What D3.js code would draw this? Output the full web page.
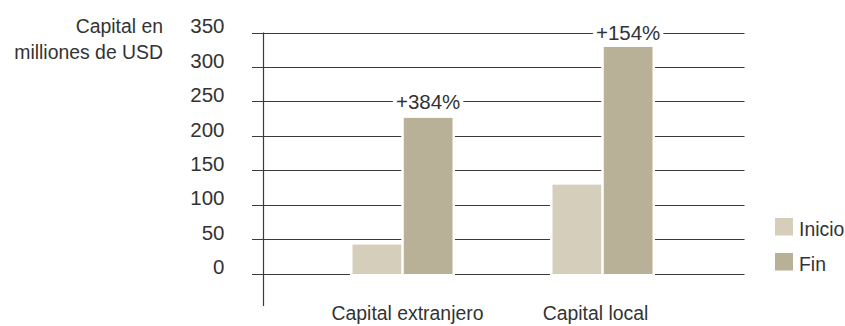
<!DOCTYPE html>
<html>
<head>
<meta charset="utf-8">
<script src="https://cdn.jsdelivr.net/npm/d3@7"></script>
<style>
  body { margin: 0; background: #fff; }
  text { font-family: "Liberation Sans", Arial, sans-serif; fill: #333333; }
</style>
</head>
<body>
<svg id="chart" width="845" height="326"></svg>
<script>
const categories = ["Capital extranjero", "Capital local"];
const seriesNames = ["Inicio", "Fin"];
const inicioValues = [42, 129];
const finValues = [226, 329];
const changeLabels = ["+384%", "+154%"];
const yTicks = [0, 50, 100, 150, 200, 250, 300, 350];
const axisTitle = ["Capital en", "milliones de USD"];
const colors = ["#d4cebb", "#b8b097"];

const svg = d3.select("#chart");
const textSize = 19.4;
const numSize = 20.5;

const y = d3.scaleLinear().domain([0, 350]).range([273.5, 32.5]);
const x = d3.scaleBand().domain(categories).range([302.5, 702.5]).paddingInner(0.5).paddingOuter(0.25);
const xs = d3.scaleBand().domain(seriesNames).range([0, x.bandwidth()]).paddingInner(0.05);
const color = d3.scaleOrdinal().domain(seriesNames).range(colors);

const gridLeft = 252, gridRight = 744.5, axisX = 263.5;

// gridlines
svg.append("g").selectAll("line").data(yTicks).join("line")
  .attr("x1", gridLeft).attr("x2", gridRight)
  .attr("y1", d => Math.round(y(d)) + 0.5).attr("y2", d => Math.round(y(d)) + 0.5)
  .attr("stroke", "#3a3a3a").attr("stroke-width", 1.2);

// vertical axis
svg.append("line").attr("x1", axisX).attr("x2", axisX)
  .attr("y1", y(350)).attr("y2", 306)
  .attr("stroke", "#3a3a3a").attr("stroke-width", 1.2);

// tick labels
svg.append("g").selectAll("text").data(yTicks).join("text")
  .attr("x", 224.5).attr("y", d => y(d) + 0.8)
  .attr("text-anchor", "end").attr("font-size", numSize)
  .text(d => d);

// axis title
svg.append("g").selectAll("text").data(axisTitle).join("text")
  .attr("x", 163).attr("y", (d, i) => 33.3 + i * 25.4)
  .attr("text-anchor", "end").attr("font-size", textSize)
  .text(d => d);

// bar data
const rows = categories.map((c, i) => ({ cat: c, values: [
  { s: "Inicio", v: inicioValues[i] }, { s: "Fin", v: finValues[i] }
]}));

const groups = svg.append("g").selectAll("g").data(rows).join("g")
  .attr("transform", d => `translate(${x(d.cat)},0)`);

// white knockouts
groups.selectAll("rect.ko").data(d => d.values).join("rect").attr("class", "ko")
  .attr("x", d => xs(d.s) - 2.5).attr("width", xs.bandwidth() + 5)
  .attr("y", d => y(d.v) - 2.5).attr("height", d => y(0) - y(d.v) + 6)
  .attr("fill", "#fff");

groups.selectAll("rect.bar").data(d => d.values).join("rect").attr("class", "bar")
  .attr("x", d => xs(d.s)).attr("width", xs.bandwidth())
  .attr("y", d => y(d.v)).attr("height", d => y(0) - y(d.v) + 0.5)
  .attr("fill", d => color(d.s));

// change labels at the next gridline above the Fin bar
const labelLayer = svg.append("g");
categories.forEach((c, i) => {
  const gy = y(Math.ceil(finValues[i] / 50) * 50);
  const cx = x(c) + xs("Fin") + xs.bandwidth() / 2;
  const bg = labelLayer.append("rect");
  const t = labelLayer.append("text").attr("x", cx).attr("y", gy + 7.3)
    .attr("text-anchor", "middle").attr("font-size", numSize).text(changeLabels[i]);
  const bb = t.node().getBBox();
  bg.attr("x", bb.x - 3).attr("width", bb.width + 6)
    .attr("y", gy - 3).attr("height", 6).attr("fill", "#fff");
});

// category labels
const catNudge = [5, -7];
svg.append("g").selectAll("text").data(categories).join("text")
  .attr("x", (d, i) => x(d) + x.bandwidth() / 2 + catNudge[i]).attr("y", 320)
  .attr("text-anchor", "middle").attr("font-size", textSize)
  .text(d => d);

// legend
const lg = svg.append("g").selectAll("g").data(seriesNames).join("g")
  .attr("transform", (d, i) => `translate(775,${218 + i * 35})`);
lg.append("rect").attr("width", 18).attr("height", 17.5).attr("fill", d => color(d));
lg.append("text").attr("x", 24).attr("y", 17.5).attr("font-size", textSize).text(d => d);
</script>
</body>
</html>
